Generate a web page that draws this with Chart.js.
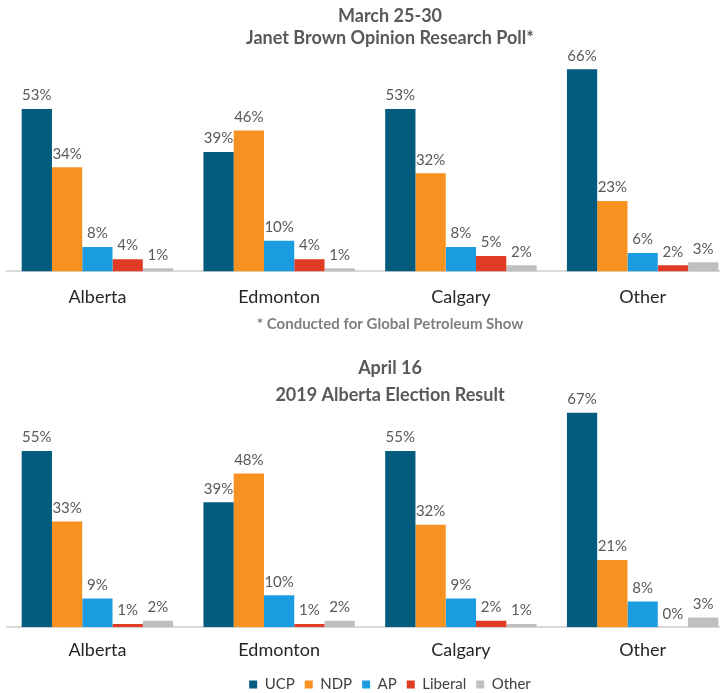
<!DOCTYPE html>
<html>
<head>
<meta charset="utf-8">
<script src="https://cdn.jsdelivr.net/npm/chart.js@4"></script>
<style>
  html, body { margin: 0; padding: 0; background: #fff; overflow: hidden; }
  .panel { position: relative; width: 780px; }
  #topPanel { height: 345px; }
  #bottomPanel { height: 357px; }
</style>
</head>
<body>
<div class="panel" id="topPanel"><canvas id="pollChart"></canvas></div>
<div class="panel" id="bottomPanel"><canvas id="resultChart"></canvas></div>
<script>
// Categories and parties
const regions = ['Alberta', 'Edmonton', 'Calgary', 'Other'];
const parties = ['UCP', 'NDP', 'AP', 'Liberal', 'Other'];
const partyColors = ['#035b7e', '#f79220', '#1c9ce0', '#e03b24', '#bfbfbf'];

// March 25-30 poll (%)
const pollUCP = [53, 39, 53, 66];
const pollNDP = [34, 46, 32, 23];
const pollAP = [8, 10, 8, 6];
const pollLiberal = [4, 4, 5, 2];
const pollOther = [1, 1, 2, 3];

// April 16 election result (%)
const resultUCP = [55, 39, 55, 67];
const resultNDP = [33, 48, 32, 21];
const resultAP = [9, 10, 9, 8];
const resultLiberal = [1, 1, 2, 0];
const resultOther = [2, 2, 1, 3];

const FONT = 'Lato, "Open Sans", sans-serif';

// Plugin to write the % value above each bar
const valueLabels = {
  id: 'valueLabels',
  afterDatasetsDraw(chart) {
    const ctx = chart.ctx;
    ctx.save();
    ctx.font = '15px ' + FONT;
    ctx.fillStyle = '#595959';
    ctx.textAlign = 'center';
    ctx.textBaseline = 'bottom';
    chart.data.datasets.forEach((ds, i) => {
      const meta = chart.getDatasetMeta(i);
      meta.data.forEach((bar, j) => {
        ctx.fillText(ds.data[j] + '%', bar.x, bar.y - 6);
      });
    });
    ctx.restore();
  }
};

function buildDatasets(series) {
  return series.map((values, i) => ({
    label: parties[i],
    data: values,
    backgroundColor: partyColors[i],
    borderWidth: 0,
    categoryPercentage: 0.833,
    barPercentage: 1.0
  }));
}

// Function to create one panel
function createPanel(canvasId, titleLines, series, yMax, opts) {
  const ctx = document.getElementById(canvasId);
  if (!ctx) return;

  new Chart(ctx, {
    type: 'bar',
    data: {
      labels: regions,
      datasets: buildDatasets(series)
    },
    options: {
      responsive: true,
      maintainAspectRatio: false,
      animation: false,
      layout: {
        padding: { left: 6.5, right: 6.5, top: 0, bottom: opts.bottomPad }
      },
      scales: {
        x: {
          grid: { display: false, drawTicks: false },
          border: { color: '#d9d9d9', width: 2 },
          ticks: {
            color: '#262626',
            font: { family: FONT, size: 18 },
            padding: opts.tickPad
          }
        },
        y: {
          // invisible axis on the right, only keeps titles centred like the original
          position: 'right',
          min: 0,
          max: yMax,
          grid: { display: false },
          border: { display: false },
          ticks: { display: false },
          afterFit(scale) {
            scale.width = 40;
          }
        }
      },
      plugins: {
        title: {
          display: true,
          text: titleLines,
          color: '#595959',
          font: { family: FONT, size: 18, weight: 'bold', lineHeight: opts.titleLine },
          padding: { top: opts.titleTop, bottom: opts.titleBottom }
        },
        subtitle: {
          display: !!opts.footnote,
          text: opts.footnote || '',
          position: 'bottom',
          color: '#7f7f7f',
          font: { family: FONT, size: 15, weight: 'bold' },
          padding: { top: -8, bottom: 0 }
        },
        legend: {
          display: !!opts.legend,
          position: 'bottom',
          title: {
            display: true,
            text: '',
            font: { size: 1 },
            padding: { top: 0, bottom: -7 }
          },
          labels: {
            boxWidth: 8,
            boxHeight: 8,
            padding: 10,
            color: '#404040',
            font: { family: FONT, size: 15 }
          }
        },
        tooltip: { enabled: false }
      }
    },
    plugins: [valueLabels]
  });
}

createPanel('pollChart',
  ['March 25-30', 'Janet Brown Opinion Research Poll*'],
  [pollUCP, pollNDP, pollAP, pollLiberal, pollOther],
  71.3,
  { titleTop: 5, titleBottom: 4, titleLine: 1.22, tickPad: 15, bottomPad: 12,
    footnote: '* Conducted for Global Petroleum Show' });

createPanel('resultChart',
  ['April 16', '2019 Alberta Election Result'],
  [resultUCP, resultNDP, resultAP, resultLiberal, resultOther],
  68.3,
  { titleTop: 9.5, titleBottom: 0, titleLine: 1.5, tickPad: 12, bottomPad: 0, legend: true });
</script>
</body>
</html>
